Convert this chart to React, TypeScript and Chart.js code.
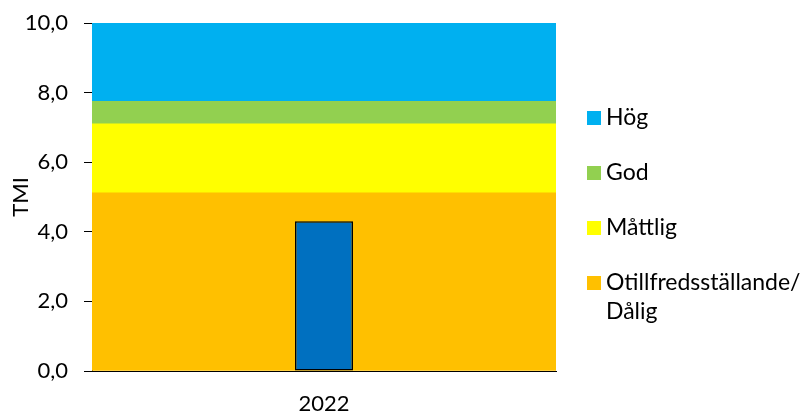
import React, { useEffect, useRef } from "react";
import { Chart, registerables } from "chart.js";

Chart.register(...registerables);

// Year shown on the category axis and its TMI value
const years = ["2022"];
const tmiValues = [4.3];

// Upper limit of each status class on the TMI scale (bottom to top)
const classNames = ["Otillfredsställande/Dålig", "Måttlig", "God", "Hög"];
const classUpperLimits = [5.12, 7.1, 7.75, 10];
const classColors = ["#FFC000", "#FFFF00", "#92D050", "#00B0F0"];

// Legend order (top to bottom) and its lines
const legendItems = [
  { lines: ["Hög"], color: "#00B0F0" },
  { lines: ["God"], color: "#92D050" },
  { lines: ["Måttlig"], color: "#FFFF00" },
  { lines: ["Otillfredsställande/", "Dålig"], color: "#FFC000" },
];

const yTicks = [0, 2, 4, 6, 8, 10];

const FONT = "Lato, 'Open Sans', sans-serif";
const FONT_SIZE = 22;
const LEGEND_FONT_SIZE = 23;

export default function App() {
  const canvasRef = useRef<HTMLCanvasElement | null>(null);

  useEffect(() => {
    const canvas = canvasRef.current;
    if (!canvas) return;

    // Band thickness = difference between consecutive class limits
    const bandDatasets = classUpperLimits.map((upper, i) => {
      const lower = i === 0 ? 0 : classUpperLimits[i - 1];
      return {
        label: classNames[i],
        data: [upper - lower],
        backgroundColor: classColors[i],
        borderWidth: 0,
        xAxisID: "xBand",
        stack: "classes",
        grouped: false,
        barPercentage: 1,
        categoryPercentage: 1,
        order: 2,
      };
    });

    const chart = new Chart(canvas, {
      type: "bar",
      data: {
        labels: years,
        datasets: [
          {
            label: "TMI",
            data: tmiValues,
            backgroundColor: "#0070C0",
            borderColor: "#000000",
            borderWidth: 1.5,
            borderSkipped: false,
            xAxisID: "x",
            stack: "tmi",
            grouped: false,
            barPercentage: 0.125,
            categoryPercentage: 1,
            order: 0,
          },
          ...bandDatasets,
        ] as any,
      },
      options: {
        animation: false,
        responsive: false,
        events: [],
        layout: { padding: { top: 23, right: 248, left: 0, bottom: 0 } },
        plugins: {
          legend: { display: false },
          tooltip: { enabled: false },
        },
        scales: {
          x: {
            type: "category",
            labels: years,
            offset: true,
            grid: { display: false, drawTicks: false },
            border: { display: true, color: "#000000", width: 1 },
            ticks: {
              color: "#000000",
              font: { family: FONT, size: FONT_SIZE },
              padding: 20,
            },
            afterFit: (scale: any) => {
              scale.height = 41;
              scale.paddingLeft = 0;
              scale.paddingRight = 0;
            },
          },
          xBand: {
            type: "category",
            labels: [""],
            offset: true,
            stacked: true,
            display: false,
          },
          y: {
            min: 0,
            max: 10,
            stacked: true,
            afterBuildTicks: (scale: any) => {
              scale.ticks = yTicks.map((v) => ({ value: v }));
            },
            grid: {
              drawOnChartArea: false,
              drawTicks: true,
              tickLength: 8,
              color: "#000000",
            },
            border: { display: true, color: "#000000", width: 1 },
            ticks: {
              color: "#000000",
              font: { family: FONT, size: FONT_SIZE },
              padding: 16,
              callback: (v: any) => Number(v).toFixed(1).replace(".", ","),
            },
            title: {
              display: true,
              text: "TMI",
              color: "#000000",
              font: { family: FONT, size: FONT_SIZE },
              padding: { top: 8, bottom: 0 },
            },
            afterFit: (scale: any) => {
              scale.width = 92;
              scale.paddingTop = 0;
              scale.paddingBottom = 0;
            },
          },
        },
      },
    });

    return () => chart.destroy();
  }, []);

  return (
    <div
      style={{
        position: "absolute",
        left: 0,
        top: 0,
        width: 804,
        height: 412,
        background: "#ffffff",
      }}
    >
      <canvas ref={canvasRef} width={804} height={412} />
      {legendItems.map((item, i) => {
        const centerY = 118 + i * 55;
        return (
          <div key={i}>
            <div
              style={{
                position: "absolute",
                left: 587,
                top: centerY - 7,
                width: 14,
                height: 14,
                background: item.color,
              }}
            />
            {item.lines.map((line, j) => (
              <div
                key={j}
                style={{
                  position: "absolute",
                  left: 606,
                  top: centerY - 16 + j * 29,
                  height: 29,
                  lineHeight: "29px",
                  fontFamily: FONT,
                  fontSize: LEGEND_FONT_SIZE,
                  color: "#000000",
                  whiteSpace: "nowrap",
                }}
              >
                {line}
              </div>
            ))}
          </div>
        );
      })}
    </div>
  );
}
